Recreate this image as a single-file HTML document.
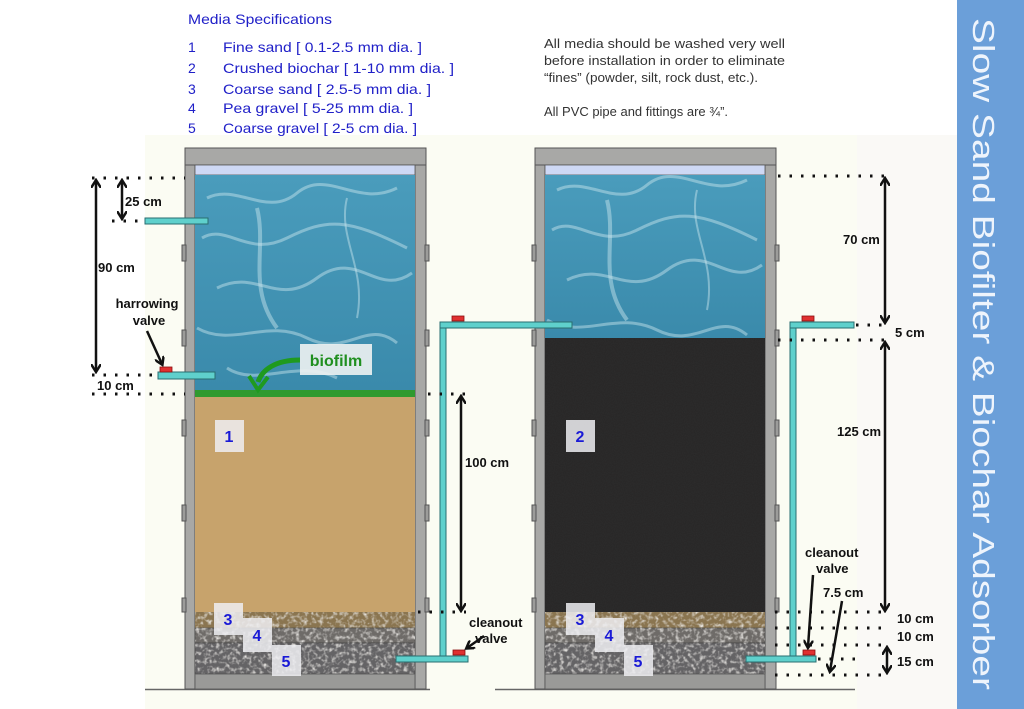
<!DOCTYPE html>
<html><head><meta charset="utf-8"><style>
html,body{margin:0;padding:0;background:#fff;}
svg{display:block;font-family:"Liberation Sans",sans-serif;}
.b{font-weight:bold;font-size:13px;fill:#111;}
.d{stroke:#111;stroke-width:3;stroke-dasharray:2.5 9;fill:none;}
.ar{stroke:#111;stroke-width:2.5;fill:none;}
.pipe{fill:#5fd0cc;stroke:#2a6e70;stroke-width:1;}
.wall{fill:#a8a8a6;stroke:#555;stroke-width:1;}
.num{font-weight:bold;font-size:16px;fill:#1a1ad6;}
.spec{font-size:14px;fill:#2020c8;}
</style></head><body>
<svg width="1024" height="709" viewBox="0 0 1024 709">
<defs>
<marker id="ah" markerWidth="10" markerHeight="10" refX="7" refY="5" orient="auto-start-reverse" markerUnits="userSpaceOnUse"><path d="M0,0 L8,5 L0,10" fill="none" stroke="#111" stroke-width="2.5"/></marker>
<filter id="noise"><feTurbulence type="fractalNoise" baseFrequency="0.9" numOctaves="2" seed="3"/><feColorMatrix type="matrix" values="0 0 0 0 0  0 0 0 0 0  0 0 0 0 0  0 0 0 0.18 0"/><feComposite in2="SourceGraphic" operator="in"/></filter>
<filter id="rock"><feTurbulence type="fractalNoise" baseFrequency="0.25" numOctaves="2" seed="7"/><feColorMatrix type="matrix" values="0 0 0 0 0.85  0 0 0 0 0.83  0 0 0 0 0.8  0 0 0 -2.2 1.2"/><feComposite in2="SourceGraphic" operator="in"/></filter>
<linearGradient id="wat" x1="0" y1="0" x2="0" y2="1"><stop offset="0" stop-color="#4a9cbc"/><stop offset="1" stop-color="#3a8aab"/></linearGradient>
<g id="streaks" fill="none" stroke="#cfe8ef" stroke-opacity="0.45" stroke-width="3">
<path d="M10,20 C40,5 70,40 100,15 S160,30 200,10"/>
<path d="M5,60 C30,45 50,80 90,60 S150,40 210,70"/>
<path d="M20,110 C60,90 80,130 120,100 S180,120 215,95"/>
<path d="M0,150 C35,170 70,140 110,160 S170,140 200,165"/>
<path d="M30,190 C60,210 100,180 140,200"/>
<path d="M60,30 C70,70 50,110 80,150" stroke-width="4"/>
<path d="M150,20 C140,60 170,90 160,140" stroke-width="2"/>
</g>
</defs>
<rect width="1024" height="709" fill="#fff"/>
<rect x="145" y="135" width="712" height="574" fill="#fbfcf3"/>
<rect x="857" y="135" width="100" height="574" fill="#faf9f6"/>
<rect x="957" y="0" width="67" height="709" fill="#6b9fd9"/>
<text transform="translate(973,18) rotate(90)" font-size="31" fill="#eef4fc" textLength="672" lengthAdjust="spacingAndGlyphs">Slow Sand Biofilter &amp; Biochar Adsorber</text>

<!-- specs -->
<text x="188" y="24" class="spec" font-size="15" textLength="144" lengthAdjust="spacingAndGlyphs">Media Specifications</text>
<g class="spec" font-size="16">
<text x="188" y="52">1</text><text x="223" y="52" textLength="199" lengthAdjust="spacingAndGlyphs">Fine sand  [ 0.1-2.5 mm dia. ]</text>
<text x="188" y="73">2</text><text x="223" y="73" textLength="231" lengthAdjust="spacingAndGlyphs">Crushed biochar  [ 1-10 mm dia. ]</text>
<text x="188" y="94">3</text><text x="223" y="94" textLength="208" lengthAdjust="spacingAndGlyphs">Coarse sand  [ 2.5-5 mm dia. ]</text>
<text x="188" y="113">4</text><text x="223" y="113" textLength="190" lengthAdjust="spacingAndGlyphs">Pea gravel  [ 5-25 mm dia. ]</text>
<text x="188" y="133">5</text><text x="223" y="133" textLength="194" lengthAdjust="spacingAndGlyphs">Coarse gravel [ 2-5 cm dia. ]</text>
</g>
<g font-size="13" fill="#333">
<text x="544" y="48" textLength="241" lengthAdjust="spacingAndGlyphs">All media should be washed very well</text>
<text x="544" y="65" textLength="241" lengthAdjust="spacingAndGlyphs">before installation in order to eliminate</text>
<text x="544" y="82" textLength="214" lengthAdjust="spacingAndGlyphs">“fines” (powder, silt, rock dust, etc.).</text>
<text x="544" y="116" textLength="184" lengthAdjust="spacingAndGlyphs">All PVC pipe and fittings are ¾”.</text>
</g>

<!-- ground line -->
<line x1="145" y1="689.5" x2="430" y2="689.5" stroke="#666" stroke-width="1.5"/>
<line x1="495" y1="689.5" x2="855" y2="689.5" stroke="#666" stroke-width="1.5"/>

<!-- TANK 1 -->
<g>
<rect x="185" y="148" width="241" height="17" class="wall"/>
<rect x="185" y="165" width="10" height="524" class="wall"/>
<rect x="415" y="165" width="11" height="524" class="wall"/>
<g fill="#9c9c9a" stroke="#555">
<rect x="182" y="245" width="4" height="16"/><rect x="425" y="245" width="4" height="16"/>
<rect x="182" y="330" width="4" height="16"/><rect x="425" y="330" width="4" height="16"/>
<rect x="182" y="420" width="4" height="16"/><rect x="425" y="420" width="4" height="16"/>
<rect x="182" y="505" width="4" height="16"/><rect x="425" y="505" width="4" height="16"/>
<rect x="182" y="598" width="4" height="14"/><rect x="425" y="598" width="4" height="14"/>
</g>
<rect x="195" y="165" width="220" height="10" fill="#ced8f4" stroke="#555" stroke-width="0.8"/>
<rect x="195" y="175" width="220" height="215" fill="url(#wat)"/>
<use href="#streaks" x="197" y="178"/>
<rect x="195" y="390" width="220" height="7" fill="#2f9a2f"/>
<rect x="195" y="397" width="220" height="215" fill="#c7a36c"/>
<rect x="195" y="612" width="220" height="16" fill="#8a7550"/>
<rect x="195" y="612" width="220" height="16" fill="#8a7550" filter="url(#rock)"/>
<rect x="195" y="628" width="220" height="15" fill="#6e6b68" stroke="#444" stroke-width="0.6"/>
<rect x="195" y="628" width="220" height="15" fill="#6e6b68" filter="url(#rock)"/>
<rect x="195" y="643" width="220" height="31" fill="#646365" stroke="#444" stroke-width="0.6"/>
<rect x="195" y="643" width="220" height="31" fill="#646365" filter="url(#rock)"/>
<rect x="195" y="674" width="220" height="15" fill="#9a9a98" stroke="#555" stroke-width="0.8"/>
</g>

<!-- TANK 2 -->
<g>
<rect x="535" y="148" width="241" height="17" class="wall"/>
<rect x="535" y="165" width="10" height="524" class="wall"/>
<rect x="765" y="165" width="11" height="524" class="wall"/>
<g fill="#9c9c9a" stroke="#555">
<rect x="532" y="245" width="4" height="16"/><rect x="775" y="245" width="4" height="16"/>
<rect x="532" y="330" width="4" height="16"/><rect x="775" y="330" width="4" height="16"/>
<rect x="532" y="420" width="4" height="16"/><rect x="775" y="420" width="4" height="16"/>
<rect x="532" y="505" width="4" height="16"/><rect x="775" y="505" width="4" height="16"/>
<rect x="532" y="598" width="4" height="14"/><rect x="775" y="598" width="4" height="14"/>
</g>
<rect x="545" y="165" width="220" height="10" fill="#ced8f4" stroke="#555" stroke-width="0.8"/>
<rect x="545" y="175" width="220" height="163" fill="url(#wat)"/>
<use href="#streaks" x="547" y="170"/>
<rect x="545" y="338" width="220" height="274" fill="#2e2d2d"/>
<rect x="545" y="338" width="220" height="274" fill="#2e2d2d" filter="url(#noise)"/>
<rect x="545" y="612" width="220" height="16" fill="#8a7550"/>
<rect x="545" y="612" width="220" height="16" fill="#8a7550" filter="url(#rock)"/>
<rect x="545" y="628" width="220" height="15" fill="#6e6b68" stroke="#444" stroke-width="0.6"/>
<rect x="545" y="628" width="220" height="15" fill="#6e6b68" filter="url(#rock)"/>
<rect x="545" y="643" width="220" height="31" fill="#646365" stroke="#444" stroke-width="0.6"/>
<rect x="545" y="643" width="220" height="31" fill="#646365" filter="url(#rock)"/>
<rect x="545" y="674" width="220" height="15" fill="#9a9a98" stroke="#555" stroke-width="0.8"/>
</g>

<!-- number labels -->
<g fill="#eeeef2" fill-opacity="0.85">
<rect x="215" y="420" width="29" height="32"/>
<rect x="566" y="420" width="29" height="32"/>
<rect x="214" y="603" width="29" height="32"/><rect x="243" y="618" width="29" height="34"/><rect x="272" y="645" width="29" height="31"/>
<rect x="566" y="603" width="29" height="32"/><rect x="595" y="618" width="29" height="34"/><rect x="624" y="645" width="29" height="31"/>
</g>
<g class="num" text-anchor="middle">
<text x="229" y="442">1</text><text x="580" y="442">2</text>
<text x="228" y="625">3</text><text x="257" y="641">4</text><text x="286" y="667">5</text>
<text x="580" y="625">3</text><text x="609" y="641">4</text><text x="638" y="667">5</text>
</g>

<!-- biofilm -->
<rect x="300" y="344" width="72" height="31" fill="#eef2f2" fill-opacity="0.9"/>
<text x="336" y="366" text-anchor="middle" font-weight="bold" font-size="16" fill="#1f8f1f">biofilm</text>
<path d="M300,360 C275,360 262,370 258,382" fill="none" stroke="#1f9a1f" stroke-width="5"/>
<path d="M249,376 L258,390 L268,377" fill="none" stroke="#1f9a1f" stroke-width="4"/>

<!-- pipes tank1 -->
<rect x="145" y="218" width="63" height="6" class="pipe"/>
<rect x="158" y="372" width="57" height="7" class="pipe"/>
<rect x="160" y="367" width="12" height="5" fill="#e03030" stroke="#8a1010" stroke-width="0.8"/>
<rect x="440" y="322" width="6" height="340" class="pipe"/>
<rect x="440" y="322" width="132" height="6" class="pipe"/>
<rect x="452" y="316" width="12" height="5" fill="#e03030" stroke="#8a1010" stroke-width="0.8"/>
<rect x="396" y="656" width="72" height="6" class="pipe"/>
<rect x="453" y="650" width="12" height="5" fill="#e03030" stroke="#8a1010" stroke-width="0.8"/>
<!-- pipes tank2 -->
<rect x="790" y="322" width="6" height="340" class="pipe"/>
<rect x="790" y="322" width="64" height="6" class="pipe"/>
<rect x="802" y="316" width="12" height="5" fill="#e03030" stroke="#8a1010" stroke-width="0.8"/>
<rect x="746" y="656" width="70" height="6" class="pipe"/>
<rect x="803" y="650" width="12" height="5" fill="#e03030" stroke="#8a1010" stroke-width="0.8"/>

<!-- dims tank1 -->
<line x1="92" y1="178" x2="185" y2="178" class="d"/>
<line x1="112" y1="221" x2="145" y2="221" class="d"/>
<line x1="92" y1="375" x2="158" y2="375" class="d"/>
<line x1="92" y1="394" x2="185" y2="394" class="d"/>
<line x1="428" y1="394" x2="466" y2="394" class="d"/>
<line x1="418" y1="612" x2="466" y2="612" class="d"/>
<line x1="96" y1="181" x2="96" y2="371" class="ar" marker-start="url(#ah)" marker-end="url(#ah)"/>
<line x1="122" y1="181" x2="122" y2="218" class="ar" marker-start="url(#ah)" marker-end="url(#ah)"/>
<text x="125" y="206" class="b">25 cm</text>
<text x="98" y="272" class="b">90 cm</text>
<text x="147" y="308" class="b" text-anchor="middle">harrowing</text>
<text x="149" y="325" class="b" text-anchor="middle">valve</text>
<line x1="147" y1="331" x2="162" y2="364" class="ar" marker-end="url(#ah)"/>
<text x="97" y="390" class="b">10 cm</text>
<line x1="461" y1="397" x2="461" y2="610" class="ar" marker-start="url(#ah)" marker-end="url(#ah)"/>
<text x="465" y="467" class="b">100 cm</text>
<text x="469" y="627" class="b">cleanout</text>
<text x="475" y="643" class="b">valve</text>
<line x1="484" y1="636" x2="467" y2="648" class="ar" marker-end="url(#ah)"/>

<!-- dims tank2 -->
<line x1="778" y1="176" x2="890" y2="176" class="d"/>
<line x1="856" y1="325" x2="890" y2="325" class="d"/>
<line x1="778" y1="340" x2="890" y2="340" class="d"/>
<line x1="885" y1="179" x2="885" y2="322" class="ar" marker-start="url(#ah)" marker-end="url(#ah)"/>
<text x="843" y="244" class="b">70 cm</text>
<text x="895" y="337" class="b">5 cm</text>
<line x1="885" y1="343" x2="885" y2="610" class="ar" marker-start="url(#ah)" marker-end="url(#ah)"/>
<text x="837" y="436" class="b">125 cm</text>
<line x1="775" y1="612" x2="890" y2="612" class="d"/>
<line x1="775" y1="628" x2="890" y2="628" class="d"/>
<line x1="775" y1="645" x2="890" y2="645" class="d"/>
<line x1="818" y1="659" x2="860" y2="659" class="d"/>
<line x1="775" y1="675" x2="890" y2="675" class="d"/>
<text x="897" y="623" class="b">10 cm</text>
<text x="897" y="641" class="b">10 cm</text>
<text x="897" y="666" class="b">15 cm</text>
<line x1="887" y1="648" x2="887" y2="672" class="ar" marker-start="url(#ah)" marker-end="url(#ah)"/>
<text x="805" y="557" class="b">cleanout</text>
<text x="816" y="573" class="b">valve</text>
<line x1="813" y1="575" x2="808" y2="647" class="ar" marker-end="url(#ah)"/>
<text x="823" y="597" class="b">7.5 cm</text>
<line x1="842" y1="601" x2="830" y2="671" class="ar" marker-end="url(#ah)"/>
</svg>
</body></html>
